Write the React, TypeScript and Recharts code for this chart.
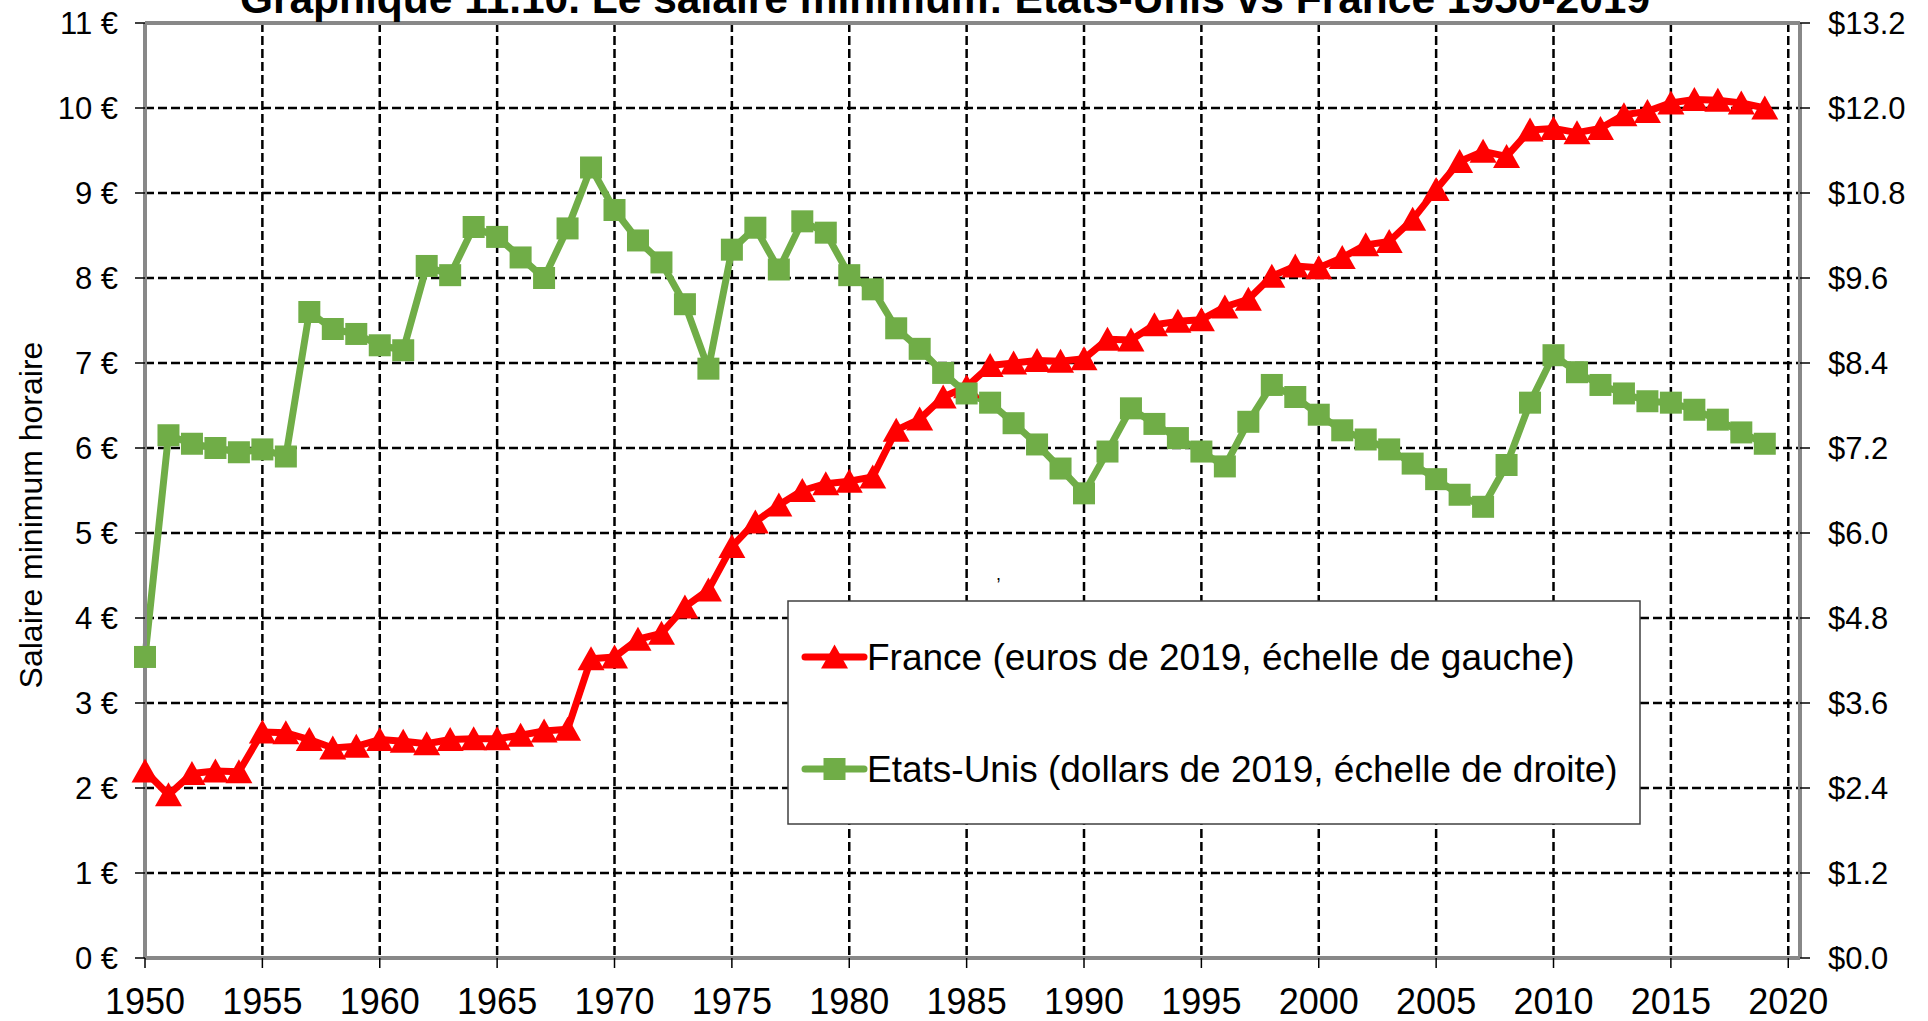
import React from "react";
import { LineChart, Line, XAxis, YAxis, CartesianGrid, ReferenceLine } from "recharts";

// Salaire minimum horaire, 1950-2019
const YEARS = [
  1950, 1951, 1952, 1953, 1954, 1955, 1956, 1957, 1958, 1959,
  1960, 1961, 1962, 1963, 1964, 1965, 1966, 1967, 1968, 1969,
  1970, 1971, 1972, 1973, 1974, 1975, 1976, 1977, 1978, 1979,
  1980, 1981, 1982, 1983, 1984, 1985, 1986, 1987, 1988, 1989,
  1990, 1991, 1992, 1993, 1994, 1995, 1996, 1997, 1998, 1999,
  2000, 2001, 2002, 2003, 2004, 2005, 2006, 2007, 2008, 2009,
  2010, 2011, 2012, 2013, 2014, 2015, 2016, 2017, 2018, 2019,
];

// France, euros de 2019 (left scale)
const FRANCE_EUR = [
  2.2, 1.92, 2.17, 2.2, 2.19, 2.66, 2.65, 2.57, 2.47, 2.49,
  2.57, 2.55, 2.52, 2.57, 2.58, 2.58, 2.62, 2.67, 2.69, 3.52,
  3.54, 3.75, 3.82, 4.13, 4.33, 4.84, 5.13, 5.33, 5.5, 5.58,
  5.61, 5.66, 6.21, 6.34, 6.6, 6.72, 6.97, 7.0, 7.03, 7.02,
  7.05, 7.28, 7.27, 7.45, 7.49, 7.51, 7.66, 7.75, 8.02, 8.14,
  8.12, 8.24, 8.39, 8.43, 8.69, 9.04, 9.37, 9.49, 9.43, 9.74,
  9.76, 9.71, 9.76, 9.92, 9.96, 10.06, 10.1, 10.09, 10.06, 10.0,
];

// Etats-Unis, dollars de 2019 (right scale)
const US_USD = [
  4.25, 7.38, 7.26, 7.2, 7.14, 7.18, 7.08, 9.12, 8.88, 8.81,
  8.65, 8.58, 9.77, 9.64, 10.32, 10.18, 9.89, 9.6, 10.3, 11.16,
  10.56, 10.13, 9.82, 9.23, 8.32, 10.0, 10.31, 9.72, 10.4, 10.24,
  9.64, 9.44, 8.89, 8.6, 8.26, 7.97, 7.84, 7.55, 7.25, 6.91,
  6.56, 7.15, 7.76, 7.54, 7.34, 7.15, 6.94, 7.57, 8.09, 7.92,
  7.67, 7.45, 7.32, 7.18, 6.98, 6.76, 6.54, 6.37, 6.96, 7.84,
  8.51, 8.27, 8.09, 7.97, 7.86, 7.84, 7.74, 7.6, 7.42, 7.26,
];

const YEAR_TICKS = [1950, 1955, 1960, 1965, 1970, 1975, 1980, 1985, 1990, 1995, 2000, 2005, 2010, 2015, 2020];
const EURO_TICKS = [0, 1, 2, 3, 4, 5, 6, 7, 8, 9, 10, 11];
const DOLLAR_TICKS = [0, 1.2, 2.4, 3.6, 4.8, 6.0, 7.2, 8.4, 9.6, 10.8, 12.0, 13.2];

const TITLE = "Graphique 11.10. Le salaire minimum: Etats-Unis vs France 1950-2019";
const Y_LABEL = "Salaire minimum horaire";
const LEGEND_FR = "France (euros de 2019, échelle de gauche)";
const LEGEND_US = "Etats-Unis (dollars de 2019, échelle de droite)";

const FONT = '"Liberation Sans", Arial, sans-serif';
const RED = "#FF0000";
const GREEN = "#70AD47";
const FRAME = "#888888";

const data = YEARS.map((year, i) => ({ year, france: FRANCE_EUR[i], us: US_USD[i] }));

function trianglePath(cx: number, cy: number) {
  return `M${cx},${cy - 12.5}L${cx + 13.5},${cy + 11.5}L${cx - 13.5},${cy + 11.5}Z`;
}

function TriangleDot(props: any) {
  const { cx, cy, index } = props;
  if (cx == null || cy == null) return null;
  return <path key={`tri-${index}`} d={trianglePath(cx, cy)} fill={RED} />;
}

function SquareDot(props: any) {
  const { cx, cy, index } = props;
  if (cx == null || cy == null) return null;
  return <rect key={`sq-${index}`} x={cx - 11} y={cy - 11} width={22} height={22} fill={GREEN} />;
}

const tickStyle = { fill: "#000", fontFamily: FONT };

export default function App() {
  return (
    <div style={{ position: "absolute", left: 0, top: 0, width: 1928, height: 1021, background: "#fff" }}>
      <LineChart width={1928} height={1021} data={data} margin={{ top: 23, right: 0, bottom: 0, left: 0 }}>
        <CartesianGrid yAxisId="left" stroke="#000" strokeWidth={2.5} strokeDasharray="9 4" />
        <XAxis
          dataKey="year"
          type="number"
          domain={[1950, 2020.5]}
          ticks={YEAR_TICKS}
          interval={0}
          height={63}
          tickSize={10}
          tickMargin={20}
          axisLine={{ stroke: FRAME, strokeWidth: 4 }}
          tickLine={{ stroke: "#000", strokeWidth: 1.5 }}
          tick={{ ...tickStyle, fontSize: 36 }}
        />
        <YAxis
          yAxisId="left"
          domain={[0, 11]}
          ticks={EURO_TICKS}
          interval={0}
          width={145}
          tickSize={10}
          tickMargin={17}
          axisLine={{ stroke: FRAME, strokeWidth: 4 }}
          tickLine={{ stroke: "#000", strokeWidth: 1.5 }}
          tick={{ ...tickStyle, fontSize: 31 }}
          tickFormatter={(v: number) => `${v}\u00a0€`}
        />
        <YAxis
          yAxisId="right"
          orientation="right"
          domain={[0, 13.2]}
          ticks={DOLLAR_TICKS}
          interval={0}
          width={128}
          tickSize={10}
          tickMargin={18}
          axisLine={{ stroke: FRAME, strokeWidth: 4 }}
          tickLine={{ stroke: "#000", strokeWidth: 1.5 }}
          tick={{ ...tickStyle, fontSize: 31 }}
          tickFormatter={(v: number) => `$${v.toFixed(1)}`}
        />
        <ReferenceLine yAxisId="left" y={11} stroke={FRAME} strokeWidth={4} />
        <Line
          yAxisId="left"
          dataKey="france"
          stroke={RED}
          strokeWidth={7}
          strokeLinejoin="round"
          dot={TriangleDot}
          activeDot={false}
          isAnimationActive={false}
        />
        <Line
          yAxisId="right"
          dataKey="us"
          stroke={GREEN}
          strokeWidth={7}
          strokeLinejoin="round"
          dot={SquareDot}
          activeDot={false}
          isAnimationActive={false}
        />
      </LineChart>

      {/* title, axis title, legend */}
      <svg
        width={1928}
        height={1021}
        style={{ position: "absolute", left: 0, top: 0, pointerEvents: "none" }}
        fontFamily={FONT}
      >
        <text x={945} y={13} textAnchor="middle" fontSize={42.5} fontWeight="bold" fill="#000">
          {TITLE}
        </text>
        <text x={42} y={515} transform="rotate(-90 42 515)" textAnchor="middle" fontSize={32} fill="#000">
          {Y_LABEL}
        </text>
        <text x={996} y={580} fontSize={18} fill="#000">,</text>

        <rect x={788} y={601} width={852} height={223} fill="#fff" stroke="#404040" strokeWidth={1.5} />
        <line x1={805} x2={864} y1={657} y2={657} stroke={RED} strokeWidth={7} strokeLinecap="round" />
        <path d={trianglePath(834.5, 657)} fill={RED} />
        <text x={867} y={670} fontSize={37} fill="#000">{LEGEND_FR}</text>
        <line x1={805} x2={864} y1={769} y2={769} stroke={GREEN} strokeWidth={7} strokeLinecap="round" />
        <rect x={823.5} y={758} width={22} height={22} fill={GREEN} />
        <text x={867} y={782} fontSize={37} fill="#000">{LEGEND_US}</text>
      </svg>
    </div>
  );
}
